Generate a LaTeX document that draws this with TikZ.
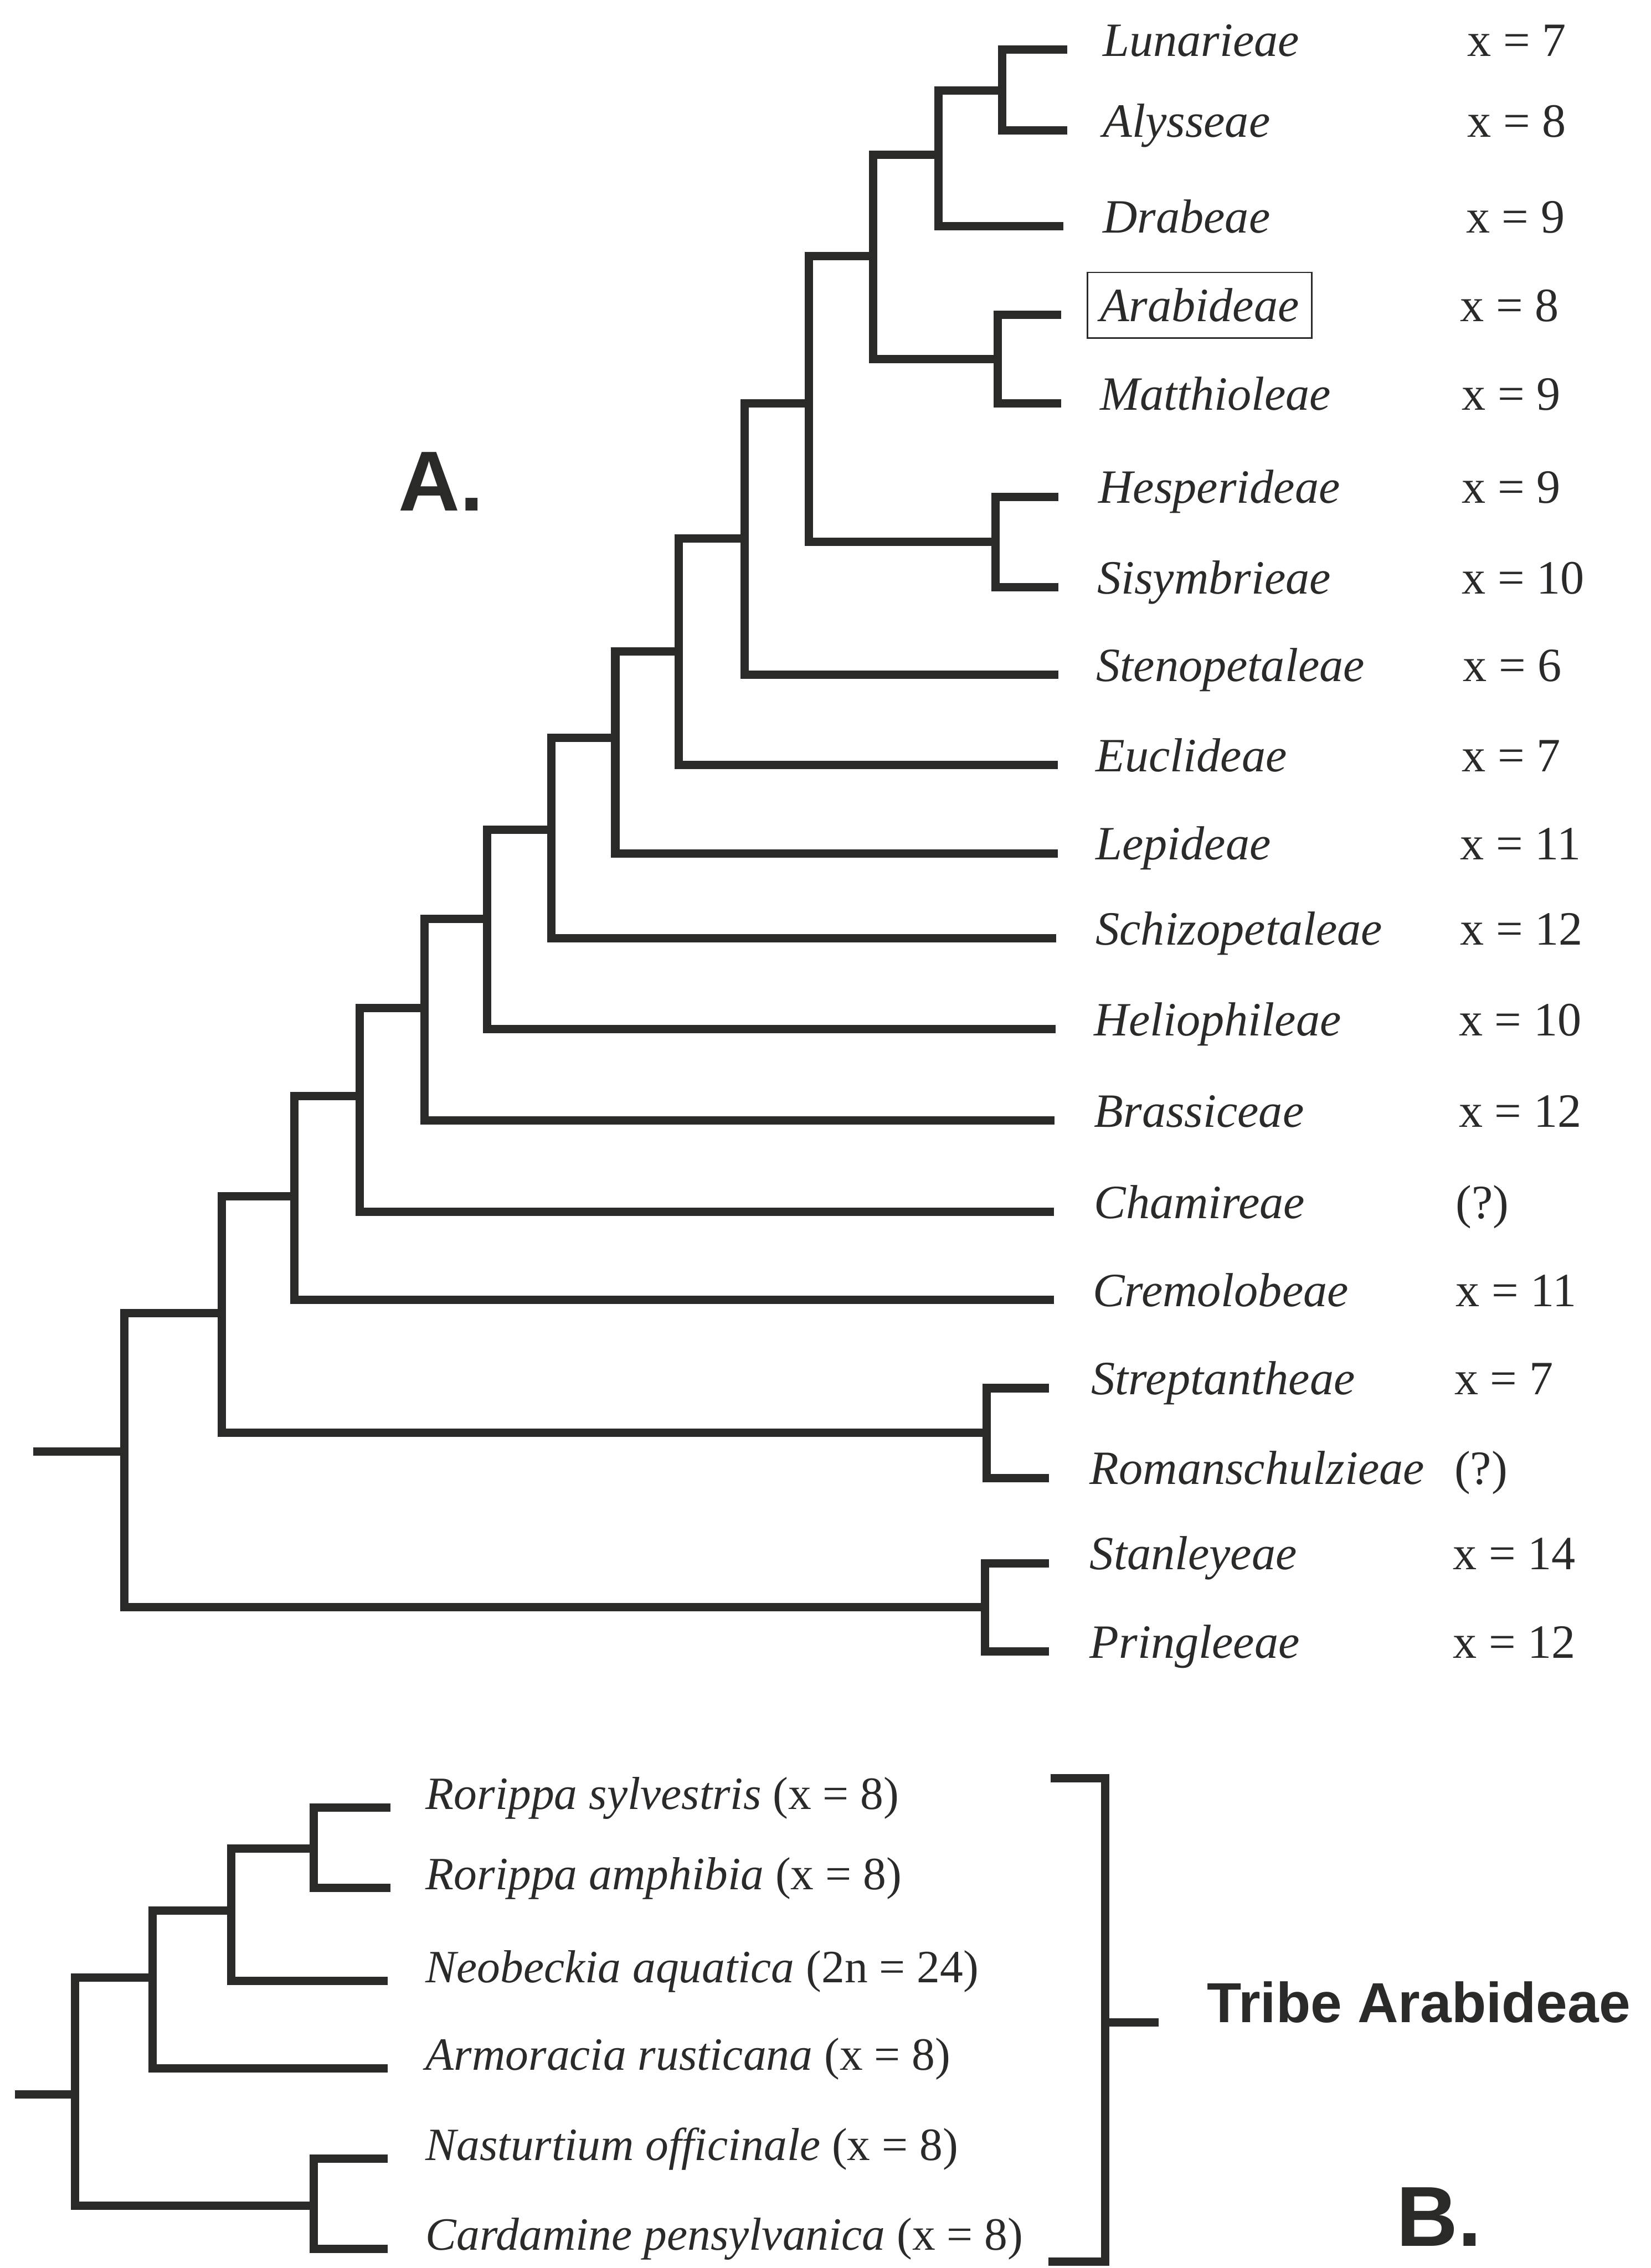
\documentclass[tikz,border=0pt]{standalone}
\usepackage{fontspec}
\setmainfont{Liberation Serif}
\newfontfamily\labsans{Liberation Sans}
\definecolor{ink}{RGB}{42,42,40}
\tikzset{
  br/.style={line width=0.115cm, draw=ink, line join=miter, line cap=butt},
  lab/.style={anchor=base west, inner sep=0pt, text=ink, font=\fontsize{18.8}{22}\selectfont\itshape},
  num/.style={anchor=base west, inner sep=0pt, text=ink, font=\fontsize{18.8}{22}\selectfont},
  labb/.style={anchor=base west, inner sep=0pt, text=ink, font=\fontsize{18.2}{22}\selectfont},
  big/.style={anchor=base west, inner sep=0pt, text=ink, font=\labsans\bfseries\fontsize{33.5}{40}\selectfont},
  tribe/.style={anchor=base west, inner sep=0pt, text=ink, font=\labsans\bfseries\fontsize{22.2}{26}\selectfont},
  boxed/.style={draw=ink, line width=0.6pt, inner xsep=0.175cm, inner ysep=0.22cm}
}
\begin{document}
\begin{tikzpicture}[x=0.02cm, y=-0.02cm]
\useasboundingbox (0,0) rectangle (1141,1568);

% ---------- Panel A: internal nodes ----------
\coordinate (rootstub) at (23,1003.7);
\coordinate (R)   at (85.8,1003.7);
\coordinate (V2)  at (153.5,907.9);
\coordinate (V3)  at (203.4,827.2);
\coordinate (V4)  at (248.5,757.9);
\coordinate (V5)  at (293.3,697);
\coordinate (V6)  at (336.5,635.2);
\coordinate (V7)  at (380.9,573.8);
\coordinate (V8)  at (425.3,510);
\coordinate (V9)  at (469.3,450.3);
\coordinate (V10) at (514.5,372.2);
\coordinate (V11) at (559,279);
\coordinate (V12) at (603.4,176.9);
\coordinate (V13) at (648.8,106.9);
\coordinate (B1)  at (692.8,62.5);
\coordinate (B2)  at (689.7,248.1);
\coordinate (B3)  at (688.1,374.6);
\coordinate (B4)  at (681.9,990.5);
\coordinate (B5)  at (681,1111);

% ---------- Panel A: leaf tips ----------
\coordinate (l1)  at (737.5,34.3);
\coordinate (l2)  at (737.5,90.2);
\coordinate (l3)  at (735,156.3);
\coordinate (l4)  at (733.5,217.8);
\coordinate (l5)  at (733.5,279);
\coordinate (l6)  at (731.5,343.4);
\coordinate (l7)  at (731.5,405.9);
\coordinate (l8)  at (731.5,466.4);
\coordinate (l9)  at (731,528.9);
\coordinate (l10) at (731,590);
\coordinate (l11) at (730,648.6);
\coordinate (l12) at (729.5,711.6);
\coordinate (l13) at (729,774.7);
\coordinate (l14) at (728.5,837.7);
\coordinate (l15) at (728.5,898.6);
\coordinate (l16) at (725,959.7);
\coordinate (l17) at (725,1021.8);
\coordinate (l18) at (725,1080.7);
\coordinate (l19) at (725,1141.8);

% ---------- Panel A: branches ----------
\draw[br] (rootstub) -- (R);
\draw[br] (V2)  -| (R)   |- (B5);
\draw[br] (V3)  -| (V2)  |- (B4);
\draw[br] (V4)  -| (V3)  |- (l15);
\draw[br] (V5)  -| (V4)  |- (l14);
\draw[br] (V6)  -| (V5)  |- (l13);
\draw[br] (V7)  -| (V6)  |- (l12);
\draw[br] (V8)  -| (V7)  |- (l11);
\draw[br] (V9)  -| (V8)  |- (l10);
\draw[br] (V10) -| (V9)  |- (l9);
\draw[br] (V11) -| (V10) |- (l8);
\draw[br] (V12) -| (V11) |- (B3);
\draw[br] (V13) -| (V12) |- (B2);
\draw[br] (B1)  -| (V13) |- (l3);
\draw[br] (l1)  -| (B1)  |- (l2);
\draw[br] (l4)  -| (B2)  |- (l5);
\draw[br] (l6)  -| (B3)  |- (l7);
\draw[br] (l16) -| (B4)  |- (l17);
\draw[br] (l18) -| (B5)  |- (l19);

% ---------- Panel A: labels ----------
\node[lab] (t1)  at (762,38.8)    {Lunarieae};
\node[lab] (t2)  at (762,94.7)    {Alysseae};
\node[lab] (t3)  at (762,160.8)   {Drabeae};
\node[lab,boxed] (t4) at (751,222.3) {Arabideae};
\node[lab] (t5)  at (760,283.5)   {Matthioleae};
\node[lab] (t6)  at (759,347.9)   {Hesperideae};
\node[lab] (t7)  at (758,410.4)   {Sisymbrieae};
\node[lab] (t8)  at (757.5,470.9) {Stenopetaleae};
\node[lab] (t9)  at (757,533.4)   {Euclideae};
\node[lab] (t10) at (757,594.5)   {Lepideae};
\node[lab] (t11) at (757,653.1)   {Schizopetaleae};
\node[lab] (t12) at (756,716.1)   {Heliophileae};
\node[lab] (t13) at (756,779.2)   {Brassiceae};
\node[lab] (t14) at (756,842.2)   {Chamireae};
\node[lab] (t15) at (755,903.1)   {Cremolobeae};
\node[lab] (t16) at (754,964.2)   {Streptantheae};
\node[lab] (t17) at (753,1026.3)  {Romanschulzieae};
\node[lab] (t18) at (753,1085.2)  {Stanleyeae};
\node[lab] (t19) at (753,1146.3)  {Pringleeae};

\node[num] (n1)  at (1014,38.8)   {x = 7};
\node[num] (n2)  at (1014,94.7)   {x = 8};
\node[num] (n3)  at (1013,160.8)  {x = 9};
\node[num] (n4)  at (1009,222.3)  {x = 8};
\node[num] (n5)  at (1010,283.5)  {x = 9};
\node[num] (n6)  at (1010,347.9)  {x = 9};
\node[num] (n7)  at (1010,410.4)  {x = 10};
\node[num] (n8)  at (1011,470.9)  {x = 6};
\node[num] (n9)  at (1010,533.4)  {x = 7};
\node[num] (n10) at (1009,594.5)  {x = 11};
\node[num] (n11) at (1009,653.1)  {x = 12};
\node[num] (n12) at (1008,716.1)  {x = 10};
\node[num] (n13) at (1008,779.2)  {x = 12};
\node[num] (n14) at (1006,842.2)  {(?)};
\node[num] (n15) at (1006,903.1)  {x = 11};
\node[num] (n16) at (1005,964.2)  {x = 7};
\node[num] (n17) at (1005,1026.3) {(?)};
\node[num] (n18) at (1004,1085.2) {x = 14};
\node[num] (n19) at (1004,1146.3) {x = 12};

\node[big] (labA) at (275,353) {A.};

% ---------- Panel B ----------
\coordinate (stubB) at (10.2,1448);
\coordinate (RB) at (51.7,1448);
\coordinate (W2) at (105.5,1367.2);
\coordinate (W3) at (160,1320.7);
\coordinate (C1) at (216.7,1278);
\coordinate (C2) at (216.7,1525.1);
\coordinate (m1) at (270,1249.8);
\coordinate (m2) at (270,1305.3);
\coordinate (m3) at (268,1369.4);
\coordinate (m4) at (268,1430);
\coordinate (m5) at (268,1492.3);
\coordinate (m6) at (268,1554.6);

\draw[br] (stubB) -- (RB);
\draw[br] (W2) -| (RB) |- (C2);
\draw[br] (W3) -| (W2) |- (m4);
\draw[br] (C1) -| (W3) |- (m3);
\draw[br] (m1) -| (C1) |- (m2);
\draw[br] (m5) -| (C2) |- (m6);

\node[labb] (u1) at (294,1251) {\textit{Rorippa sylvestris} (x = 8)};
\node[labb] (u2) at (294,1306.5) {\textit{Rorippa amphibia} (x = 8)};
\node[labb] (u3) at (294,1370.5) {\textit{Neobeckia aquatica} (2n = 24)};
\node[labb] (u4) at (294,1431) {\textit{Armoracia rusticana} (x = 8)};
\node[labb] (u5) at (294,1493.5) {\textit{Nasturtium officinale} (x = 8)};
\node[labb] (u6) at (294,1555.5) {\textit{Cardamine pensylvanica} (x = 8)};

% big bracket
\coordinate (bt) at (726,1229.4);
\coordinate (bm) at (763.8,1398.2);
\coordinate (bb) at (724.5,1563.5);
\coordinate (bmr) at (801,1398.2);
\draw[br] (bt) -| (bm) |- (bb);
\draw[br] (bm) -- (bmr);

\node[tribe] (tribe) at (834,1398.2) {Tribe Arabideae};
\node[big] (labB) at (965,1553) {B.};
\end{tikzpicture}
\end{document}
